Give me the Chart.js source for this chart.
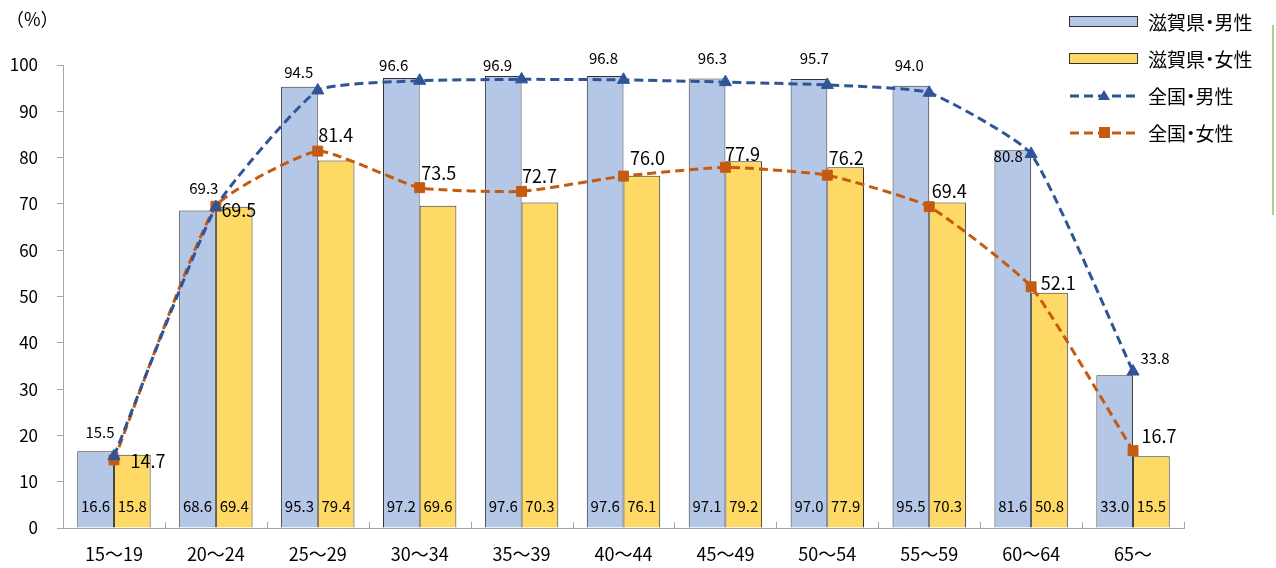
<!DOCTYPE html>
<html lang="ja">
<head>
<meta charset="utf-8">
<title>労働力率</title>
<script src="https://cdn.jsdelivr.net/npm/chart.js@4.4.1/dist/chart.umd.min.js"></script>
<style>
    body { margin: 0; background: #fff; }
    #wrap { position: relative; width: 1276px; height: 568px; font-family: "Noto Sans CJK JP", sans-serif; }
    #unit { position: absolute; left: 6px; top: 5px; font-size: 18px; color: #000; }
    .item { position: absolute; left: 1069px; height: 24px; font-size: 19px; line-height: 24px; color: #000; display: flex; align-items: center; font-feature-settings: "palt"; }
    .item svg { margin-right: 9px; }
    #greenLine { position: absolute; left: 1272px; top: 25px; width: 2px; height: 190px; background: #A9D18E; }
</style>
</head>
<body>
<div id="wrap">
    <canvas id="chart" width="1276" height="568"></canvas>
    <div id="unit">（%）</div>
    <div id="legend"></div>
    <div id="greenLine"></div>
</div>
<script>
// age groups
const ageGroups = ['15～19', '20～24', '25～29', '30～34', '35～39', '40～44', '45～49', '50～54', '55～59', '60～64', '65～'];

// 滋賀県
const shigaMale = [16.6, 68.6, 95.3, 97.2, 97.6, 97.6, 97.1, 97.0, 95.5, 81.6, 33.0];
const shigaFemale = [15.8, 69.4, 79.4, 69.6, 70.3, 76.1, 79.2, 77.9, 70.3, 50.8, 15.5];

// 全国
const japanMale = [15.5, 69.3, 94.5, 96.6, 96.9, 96.8, 96.3, 95.7, 94.0, 80.8, 33.8];
const japanFemale = [14.7, 69.5, 81.4, 73.5, 72.7, 76.0, 77.9, 76.2, 69.4, 52.1, 16.7];

const yTicks = [0, 10, 20, 30, 40, 50, 60, 70, 80, 90, 100];

const FONT = '"Noto Sans CJK JP", sans-serif';
const BLUE_BAR = '#B4C7E7';
const YELLOW_BAR = '#FFD966';
const BLUE_LINE = '#2F5597';
const ORANGE_LINE = '#C55A11';

// label nudges for the line values (dx, dy in px)
const maleLabelShift = [[-14, -24], [-12, -19], [-19, -18], [-26, -15], [-24, -14], [-20, -22], [-13, -24], [-13, -27], [-20, -27], [-23, 2], [22, -13]];
const femaleLabelShift = [[34, 1], [23, 4], [18, -16], [19, -15], [18, -15], [24, -18], [17, -13], [19, -17], [20, -16], [27, -4], [26, -15]];

const valueLabels = {
    id: 'valueLabels',
    afterDatasetsDraw(chart) {
        const ctx = chart.ctx;
        const base = chart.scales.y.getPixelForValue(0);
        ctx.save();
        ctx.fillStyle = '#000';
        ctx.textAlign = 'center';
        ctx.textBaseline = 'middle';
        chart.data.datasets.forEach((ds, i) => {
            const meta = chart.getDatasetMeta(i);
            meta.data.forEach((el, j) => {
                const text = ds.data[j].toFixed(1);
                if (ds.type === 'bar') {
                    ctx.font = '15px ' + FONT;
                    ctx.fillText(text, el.x, base - 22);
                } else {
                    const shift = ds.labelShift[j];
                    ctx.font = ds.labelSize + 'px ' + FONT;
                    ctx.fillText(text, el.x + shift[0], el.y + shift[1]);
                }
            });
        });
        ctx.restore();
    }
};

// small tick marks on the x axis, pointing up, between the groups
const xTicksUp = {
    id: 'xTicksUp',
    afterDraw(chart) {
        const x = chart.scales.x;
        const bottom = chart.chartArea.bottom;
        const ctx = chart.ctx;
        ctx.save();
        ctx.strokeStyle = '#A6A6A6';
        ctx.lineWidth = 1;
        for (let i = 0; i <= ageGroups.length; i++) {
            const px = Math.round(x.getPixelForValue(i - 0.5)) + 0.5;
            ctx.beginPath();
            ctx.moveTo(px, bottom);
            ctx.lineTo(px, bottom - 6);
            ctx.stroke();
        }
        ctx.restore();
    }
};

new Chart(document.getElementById('chart'), {
    data: {
        labels: ageGroups,
        datasets: [
            {
                type: 'line',
                label: '全国・男性',
                data: japanMale,
                borderColor: BLUE_LINE,
                backgroundColor: BLUE_LINE,
                borderWidth: 3,
                borderDash: [9, 5],
                tension: 0.15,
                pointStyle: 'triangle',
                pointRadius: 7,
                pointBorderWidth: 1,
                labelShift: maleLabelShift,
                labelSize: 15,
                order: 1
            },
            {
                type: 'line',
                label: '全国・女性',
                data: japanFemale,
                borderColor: ORANGE_LINE,
                backgroundColor: ORANGE_LINE,
                borderWidth: 3,
                borderDash: [9, 5],
                tension: 0.15,
                pointStyle: 'rect',
                pointRadius: 7,
                pointBorderWidth: 1,
                labelShift: femaleLabelShift,
                labelSize: 18,
                order: 1
            },
            {
                type: 'bar',
                label: '滋賀県・男性',
                data: shigaMale,
                backgroundColor: BLUE_BAR,
                borderColor: '#333333',
                borderWidth: 1,
                categoryPercentage: 0.72,
                barPercentage: 1,
                order: 2
            },
            {
                type: 'bar',
                label: '滋賀県・女性',
                data: shigaFemale,
                backgroundColor: YELLOW_BAR,
                borderColor: '#333333',
                borderWidth: 1,
                categoryPercentage: 0.72,
                barPercentage: 1,
                order: 2
            }
        ]
    },
    options: {
        responsive: false,
        animation: false,
        layout: { padding: { left: 0, top: 65, right: 92, bottom: 0 } },
        plugins: {
            legend: { display: false },
            tooltip: { enabled: false }
        },
        scales: {
            x: {
                grid: { display: false, drawTicks: false },
                border: { color: '#A6A6A6', width: 1 },
                ticks: { color: '#000', font: { family: FONT, size: 18 }, padding: 15 },
                afterFit(scale) { scale.height = 40; }
            },
            y: {
                min: 0,
                max: 100,
                afterBuildTicks(scale) { scale.ticks = yTicks.map(v => ({ value: v })); },
                grid: { drawOnChartArea: false, tickLength: 6, color: '#A6A6A6' },
                border: { color: '#A6A6A6', width: 1 },
                ticks: { color: '#000', font: { family: FONT, size: 17 }, padding: 19 },
                afterFit(scale) { scale.width = 63; }
            }
        }
    },
    plugins: [valueLabels, xTicksUp]
});

// legend drawn as html in the top right corner
const legendItems = [
    { text: '滋賀県・男性', kind: 'bar', color: BLUE_BAR },
    { text: '滋賀県・女性', kind: 'bar', color: YELLOW_BAR },
    { text: '全国・男性', kind: 'triangle', color: BLUE_LINE },
    { text: '全国・女性', kind: 'rect', color: ORANGE_LINE }
];

function legendIcon(item) {
    if (item.kind === 'bar') {
        return `<svg width="70" height="14"><rect x="0.5" y="1.5" width="68" height="10" fill="${item.color}" stroke="#333" stroke-width="1"/></svg>`;
    }
    const marker = item.kind === 'triangle'
        ? `<polygon points="35,1 41,11 29,11" fill="${item.color}"/>`
        : `<rect x="30" y="1" width="11" height="11" fill="${item.color}"/>`;
    return `<svg width="70" height="14"><line x1="1" y1="7" x2="69" y2="7" stroke="${item.color}" stroke-width="3" stroke-dasharray="9 5"/>${marker}</svg>`;
}

const legendEl = document.getElementById('legend');
legendItems.forEach((item, i) => {
    const div = document.createElement('div');
    div.className = 'item';
    div.style.top = (10 + i * 37) + 'px';
    div.innerHTML = legendIcon(item) + item.text;
    legendEl.appendChild(div);
});
</script>
</body>
</html>
